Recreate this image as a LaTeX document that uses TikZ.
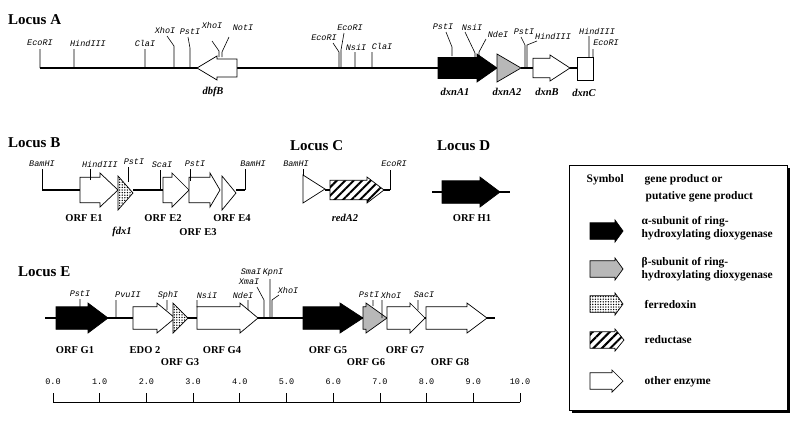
\documentclass[tikz,border=0pt]{standalone}
\usepackage{fontspec}
\setmainfont{Liberation Serif}
\newfontfamily\monof{Liberation Mono}
\usetikzlibrary{patterns.meta}
\newcommand{\gn}[6][wg]{\draw[#1] (#2,#5-#6*0.75)--(#4,#5-#6*0.75)--(#4,#5-#6)--(#3,#5)--(#4,#5+#6)--(#4,#5+#6*0.75)--(#2,#5+#6*0.75)--cycle;}
\begin{document}
\begin{tikzpicture}[x=1pt,y=-1pt,
 dna/.style={line width=2.2pt},
 wg/.style={draw=black,fill=white,line width=0.7pt},
 bg/.style={draw=black,fill=black,line width=0.7pt},
 gg/.style={draw=black,fill=black!28,line width=0.7pt},
 dg/.style={draw=black,line width=0.7pt,fill=white,postaction={pattern={Dots[radius=0.75pt,distance=2.6pt]}}},
 hg/.style={draw=black,line width=0.7pt,fill=white,postaction={pattern={Lines[angle=45,distance=6pt,line width=2pt]}}},
 site/.style={font=\monof\itshape\fontsize{8.5}{9}\selectfont,inner sep=0.5pt},
 tk/.style={line width=0.6pt},
 lab/.style={font=\bfseries\fontsize{10.5}{11}\selectfont,inner sep=0.5pt},
 glab/.style={font=\bfseries\itshape\fontsize{10.5}{11}\selectfont,inner sep=0.5pt},
 head/.style={font=\bfseries\fontsize{15}{17}\selectfont,inner sep=0pt,anchor=west},
 leg/.style={font=\bfseries\fontsize{11.5}{12.5}\selectfont,anchor=west,inner sep=0.5pt,align=left}]
\useasboundingbox (0,0) rectangle (800,424);
% ---------- Locus A
\node[head] (hA) at (8,20) {Locus A};
\draw[dna] (40,68)--(438,68) (521,68)--(533,68) (570,68)--(577,68);
\gn{237}{197}{217}{68}{12}
\gn[bg]{438}{497}{477}{68}{14}
\draw[gg] (497,54)--(521,68)--(497,82)--cycle;
\gn{533}{570}{550}{68}{13}
\draw[wg] (577,57) rectangle (593,80);
\node[glab] (l1) at (213,92) {dbfB};
\node[glab] (l2) at (455,92) {dxnA1};
\node[glab] (l3) at (507,92) {dxnA2};
\node[glab] (l4) at (547,92) {dxnB};
\node[glab] (l5) at (584,93) {dxnC};
\node[site] (s1) at (40,43) {EcoRI};
\node[site] (s2) at (88,43) {HindIII};
\node[site] (s3) at (145,43) {ClaI};
\node[site] (s4) at (165,30) {XhoI};
\node[site] (s5) at (190,32) {PstI};
\node[site] (s6) at (212,25) {XhoI};
\node[site] (s7) at (243,28) {NotI};
\node[site] (s8) at (324,38) {EcoRI};
\node[site] (s9) at (350,28) {EcoRI};
\node[site] (s10) at (356,47) {NsiI};
\node[site] (s11) at (382,46) {ClaI};
\node[site] (s12) at (443,27) {PstI};
\node[site] (s13) at (472,27) {NsiI};
\node[site] (s14) at (498,34) {NdeI};
\node[site] (s15) at (524,32) {PstI};
\node[site] (s16) at (553,36) {HindIII};
\node[site] (s17) at (597,31) {HindIII};
\node[site] (s18) at (606,43) {EcoRI};
\draw[tk] (40,68)--(40,49) (74,68)--(74,49) (145,68)--(145,49)
 (174,68)--(174,46)--(167,36) (190,68)--(190,48)--(188,37)
 (219,57)--(219,51)--(212,41) (222,57)--(222,52)--(229,37)
 (339,68)--(339,52)--(333,43) (341,68)--(341,50)--(344,33)
 (355,68)--(355,52) (372,68)--(372,52)
 (452,56)--(452,47)--(446,32) (475,57)--(475,53)--(465,32) (479,57)--(479,52)--(486,39)
 (525,68)--(525,45)--(521,37) (527,68)--(527,45)--(537,41)
 (589,57)--(589,36) (593,57)--(593,49);
% ---------- Locus B
\node[head] (hB) at (8,143) {Locus B};
\draw[dna] (42,190)--(80,190) (133,190)--(163,190) (236,190)--(245,190);
\gn{80}{118}{100}{190}{17}
\draw[dg] (118,176)--(133,193)--(118,210)--cycle;
\gn{163}{189}{172}{190}{17}
\gn{189}{220}{210}{190}{17}
\draw[wg] (222,176)--(236,193)--(222,210)--cycle;
\node[site] (b1) at (42,164) {BamHI};
\node[site] (b2) at (100,164) {HindIII};
\node[site] (b3) at (134,162) {PstI};
\node[site] (b4) at (162,165) {ScaI};
\node[site] (b5) at (195,164) {PstI};
\node[site] (b6) at (253,164) {BamHI};
\draw[tk] (42,190)--(42,169) (90,180)--(90,169) (128,182)--(128,167) (160,190)--(160,170) (190,181)--(190,169) (245,190)--(245,169);
\node[lab] (e1) at (84,218) {ORF E1};
\node[glab] (e1b) at (122,232) {fdx1};
\node[lab] (e2) at (163,218) {ORF E2};
\node[lab] (e3) at (198,232) {ORF E3};
\node[lab] (e4) at (232,218) {ORF E4};
% ---------- Locus C
\node[head] (hC) at (290,146) {Locus C};
\draw[dna] (325,190)--(330,190) (383,190)--(390,190);
\draw[wg] (303,175)--(325,189)--(303,203)--cycle;
\gn[hg]{330}{384}{367}{190}{13}
\node[site] (c1) at (296,164) {BamHI};
\node[site] (c2) at (394,164) {EcoRI};
\draw[tk] (303,175)--(303,169) (390,190)--(390,170);
\node[glab] (c3) at (345,218) {redA2};
% ---------- Locus D
\node[head] (hD) at (437,146) {Locus D};
\draw[dna] (432,192)--(510,192);
\gn[bg]{442}{500}{480}{192}{15}
\node[lab] (d1) at (472,218) {ORF H1};
% ---------- Locus E
\node[head] (hE) at (18,272) {Locus E};
\draw[dna] (45,318)--(495,318);
\gn[bg]{56}{108}{88}{318}{15}
\gn{133}{175}{157}{318}{15}
\draw[dg] (173,303)--(188,318)--(173,333)--cycle;
\gn{197}{258}{240}{318}{15}
\gn[bg]{303}{363}{340}{318}{15}
\gn[gg]{363}{387}{366}{318}{15}
\gn{387}{425}{410}{318}{15}
\gn{426}{487}{467}{318}{15}
\node[site] (g1) at (80,294) {PstI};
\node[site] (g2) at (128,295) {PvuII};
\node[site] (g3) at (168,295) {SphI};
\node[site] (g4) at (207,295) {NsiI};
\node[site] (g5) at (243,295) {NdeI};
\node[site] (g6) at (251,272) {SmaI};
\node[site] (g7) at (249,282) {XmaI};
\node[site] (g8) at (273,273) {KpnI};
\node[site] (g9) at (288,290) {XhoI};
\node[site] (g10) at (369,295) {PstI};
\node[site] (g11) at (391,295) {XhoI};
\node[site] (g12) at (424,295) {SacI};
\draw[tk] (80,307)--(80,299) (116,318)--(116,300) (167,310)--(167,300) (197,307)--(197,300) (248,310)--(248,300)
 (264,318)--(264,300)--(257,287) (270,318)--(270,279) (272,318)--(272,300)--(279,295)
 (373,306)--(373,300) (382,318)--(382,300) (418,310)--(418,300);
\node[lab] (o1) at (75,350) {ORF G1};
\node[lab] (o2) at (145,350) {EDO 2};
\node[lab] (o3) at (180,362) {ORF G3};
\node[lab] (o4) at (222,350) {ORF G4};
\node[lab] (o5) at (328,350) {ORF G5};
\node[lab] (o6) at (366,362) {ORF G6};
\node[lab] (o7) at (405,350) {ORF G7};
\node[lab] (o8) at (450,362) {ORF G8};
% ---------- scale
\draw[line width=0.7pt] (53,402)--(520,402);
\foreach \i/\t in {0/0.0,1/1.0,2/2.0,3/3.0,4/4.0,5/5.0,6/6.0,7/7.0,8/8.0,9/9.0,10/10.0}{
 \draw[line width=0.7pt] ({53+46.7*\i},402)--({53+46.7*\i},393);
 \node[font=\monof\fontsize{8.5}{9}\selectfont,inner sep=0pt] (sc\i) at ({53+46.7*\i},382) {\t};}
% ---------- legend
\fill[black] (572,168) rectangle (790,413);
\draw[line width=0.8pt,fill=white] (569,165) rectangle (787,410);
\node[leg] (y1) at (586,180) {Symbol};
\node[leg] (y2) at (644,180) {gene product or};
\node[leg] (y3) at (645,197) {putative gene product};
\gn[bg]{590}{623}{615}{231}{11}
\node[leg,align=left] (y4) at (641,228) {α-subunit of ring-\\hydroxylating dioxygenase};
\gn[gg]{590}{623}{615}{269}{11}
\node[leg,align=left] (y5) at (641,269) {β-subunit of ring-\\hydroxylating dioxygenase};
\gn[dg]{590}{623}{615}{304}{11}
\node[leg] (y6) at (644,304) {ferredoxin};
\gn[hg]{590}{624}{615}{340}{11}
\node[leg] (y7) at (644,340) {reductase};
\gn{590}{623}{612}{381}{11}
\node[leg] (y8) at (644,382) {other enzyme};
\end{tikzpicture}
\end{document}
